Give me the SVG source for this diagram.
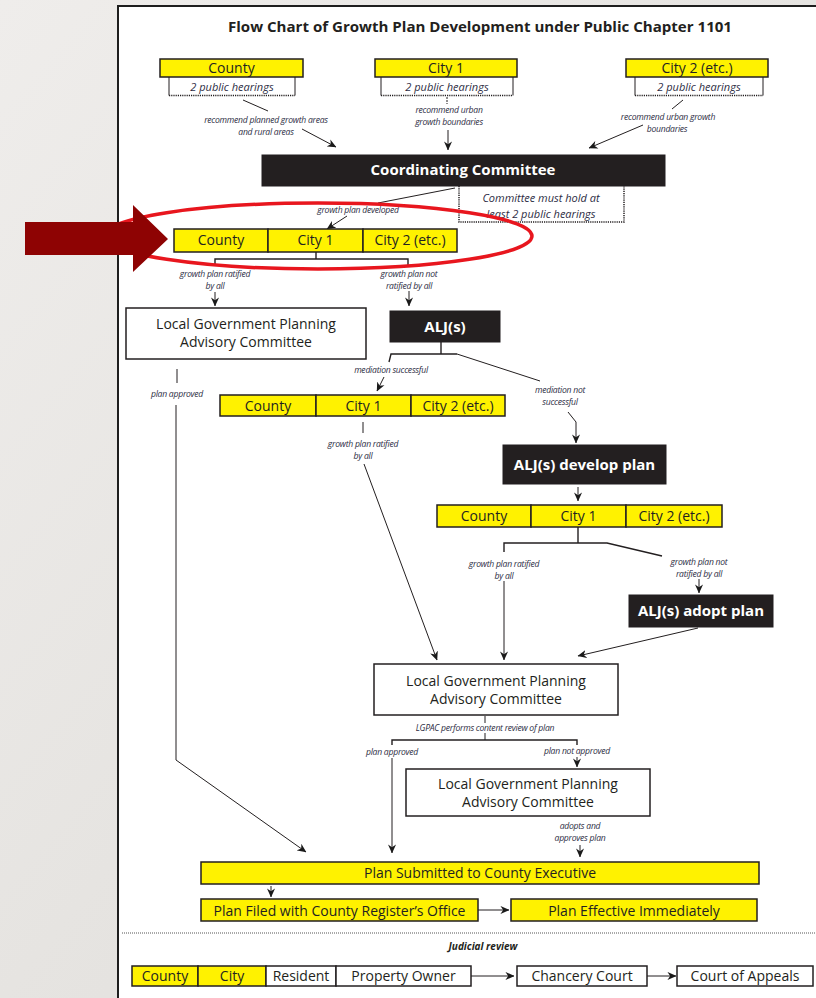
<svg xmlns="http://www.w3.org/2000/svg" width="816" height="998" viewBox="0 0 816 998">
<defs>
<linearGradient id="bg" x1="0" y1="0" x2="1" y2="1">
<stop offset="0" stop-color="#efedeb"/><stop offset="0.5" stop-color="#e6e4e1"/><stop offset="1" stop-color="#dedcd9"/>
</linearGradient>
<marker id="ah" viewBox="0 0 10 10" refX="9.5" refY="5" markerWidth="9" markerHeight="9" orient="auto" markerUnits="userSpaceOnUse">
<path d="M0,0.5 L10,5 L0,9.5 L3,5 z" fill="#1a1a1a"/>
</marker>
<style>
.t{font-family:"Open Sans","Noto Sans","Liberation Sans",sans-serif;fill:#231f20;text-anchor:middle}
.bx{font-size:14px}
.hd{font-size:15px;font-weight:bold;fill:#ffffff}
.lb{font-size:8.6px;font-style:italic;letter-spacing:-0.25px;fill:#2d2d44}
.hr{font-size:11px;font-style:italic;fill:#2d2d44}
.y{fill:#fff200;stroke:#231f20;stroke-width:1.5}
.w{fill:#ffffff;stroke:#231f20;stroke-width:1.5}
.k{fill:#231f20;stroke:#231f20;stroke-width:1}
.ln{stroke:#231f20;stroke-width:1;fill:none}
.br{stroke:#231f20;stroke-width:1.4;fill:none}
.dot{stroke:#231f20;stroke-width:1.5;stroke-dasharray:1.2,1;fill:none}
</style>
</defs>
<rect x="0" y="0" width="816" height="998" fill="url(#bg)"/>
<rect x="118" y="6" width="720" height="1010" fill="#ffffff" stroke="#1e1e1e" stroke-width="2"/>
<text class="t" x="480" y="32" font-size="15" font-weight="bold" textLength="504" lengthAdjust="spacingAndGlyphs">Flow Chart of Growth Plan Development under Public Chapter 1101</text>

<g id="connectors">
<line class="ln" x1="243" y1="100" x2="268" y2="111"/>
<line class="ln" x1="302" y1="129" x2="336" y2="147" marker-end="url(#ah)"/>
<line class="ln" x1="447" y1="97" x2="447" y2="104" stroke-dasharray="2,1"/>
<line class="ln" x1="448" y1="130" x2="448" y2="150" marker-end="url(#ah)"/>
<line class="ln" x1="683" y1="100" x2="672" y2="109"/>
<line class="ln" x1="643" y1="125" x2="589" y2="148" marker-end="url(#ah)"/>
<line class="ln" x1="455" y1="188" x2="378" y2="203"/>
<line class="ln" x1="347" y1="216" x2="327" y2="229" marker-end="url(#ah)"/>
<polyline class="br" points="316,252 316,259"/>
<polyline class="br" points="215,266 215,259 408,259 408,266"/>
<line class="ln" x1="215" y1="292" x2="215" y2="306" marker-end="url(#ah)"/>
<line class="ln" x1="409" y1="291" x2="409" y2="306" marker-end="url(#ah)"/>
<polyline class="br" points="441,342 441,354"/>
<polyline class="br" points="389,362 391,354 457,354"/>
<line class="ln" x1="457" y1="354" x2="540" y2="381"/>
<line class="ln" x1="384" y1="377" x2="377" y2="391" marker-end="url(#ah)"/>
<polyline class="ln" points="568,412 576,422 576,443" marker-end="url(#ah)"/>
<line class="ln" x1="177" y1="369" x2="177" y2="383"/>
<polyline class="ln" points="176,405 176,760 306,852" marker-end="url(#ah)"/>
<line class="ln" x1="363" y1="422" x2="363" y2="433"/>
<line class="ln" x1="364" y1="464" x2="437" y2="660" marker-end="url(#ah)"/>
<line class="ln" x1="578" y1="487" x2="578" y2="501" marker-end="url(#ah)"/>
<polyline class="br" points="578,527 578,543"/>
<polyline class="br" points="504,552 504,543 607,543 662,556"/>
<line class="ln" x1="504" y1="581" x2="504" y2="660" marker-end="url(#ah)"/>
<line class="ln" x1="699" y1="579" x2="699" y2="593" marker-end="url(#ah)"/>
<line class="ln" x1="698" y1="628" x2="578" y2="656" marker-end="url(#ah)"/>
<line class="ln" x1="485" y1="716" x2="485" y2="723"/>
<polyline class="br" points="392,745 392,740 577,740 577,745"/>
<line class="ln" x1="485" y1="733" x2="485" y2="740"/>
<line class="ln" x1="392" y1="758" x2="392" y2="853" marker-end="url(#ah)"/>
<line class="ln" x1="577" y1="757" x2="577" y2="767" marker-end="url(#ah)"/>
<line class="ln" x1="580" y1="845" x2="580" y2="857" marker-end="url(#ah)"/>
<line class="ln" x1="271" y1="886" x2="271" y2="897" marker-end="url(#ah)"/>
<line class="ln" x1="478" y1="910" x2="509" y2="910" marker-end="url(#ah)"/>
<line class="ln" x1="471" y1="976" x2="514" y2="976" marker-end="url(#ah)"/>
<line class="ln" x1="647" y1="976" x2="676" y2="976" stroke="#666" marker-end="url(#ah)"/>
<line x1="122" y1="933" x2="816" y2="933" stroke="#555" stroke-width="1" stroke-dasharray="1,1"/>
<text class="t lb" x="266" y="122.5">recommend planned growth areas</text>
<text class="t lb" x="266" y="135">and rural areas</text>
<text class="t lb" x="449" y="112.5">recommend urban</text>
<text class="t lb" x="449" y="125">growth boundaries</text>
<text class="t lb" x="668" y="119.5">recommend urban growth</text>
<text class="t lb" x="667" y="132">boundaries</text>
<text class="t lb" x="358" y="213">growth plan developed</text>
<text class="t lb" x="215" y="276.5">growth plan ratified</text>
<text class="t lb" x="215" y="289">by all</text>
<text class="t lb" x="409" y="276.5">growth plan not</text>
<text class="t lb" x="409" y="289">ratified by all</text>
<text class="t lb" x="391" y="373">mediation successful</text>
<text class="t lb" x="560" y="392.5">mediation not</text>
<text class="t lb" x="560" y="405">successful</text>
<text class="t lb" x="177" y="397">plan approved</text>
<text class="t lb" x="363" y="446.5">growth plan ratified</text>
<text class="t lb" x="363" y="459">by all</text>
<text class="t lb" x="504" y="566.5">growth plan ratified</text>
<text class="t lb" x="504" y="579">by all</text>
<text class="t lb" x="699" y="564.5">growth plan not</text>
<text class="t lb" x="699" y="577">ratified by all</text>
<text class="t lb" x="485" y="731">LGPAC performs content review of plan</text>
<text class="t lb" x="392" y="755">plan approved</text>
<text class="t lb" x="577" y="754">plan not approved</text>
<text class="t lb" x="580" y="828.5">adopts and</text>
<text class="t lb" x="580" y="841">approves plan</text>
</g>

<g id="county-top">
<rect class="y" x="160" y="59" width="143" height="18"/>
<text class="t bx" x="231.5" y="73">County</text>
<path class="ln" d="M169,77 V95.5 M295,77 V95.5" stroke-width="1.5"/>
<line class="dot" x1="169" y1="95.5" x2="295" y2="95.5"/>
<text class="t hr" x="232" y="91">2 public hearings</text>
</g>
<g id="city1-top">
<rect class="y" x="375" y="59" width="142" height="18"/>
<text class="t bx" x="446" y="73">City 1</text>
<path class="ln" d="M381,77 V95.5 M513,77 V95.5" stroke-width="1.5"/>
<line class="dot" x1="381" y1="95.5" x2="513" y2="95.5"/>
<text class="t hr" x="447" y="91">2 public hearings</text>
</g>
<g id="city2-top">
<rect class="y" x="626" y="59" width="142" height="18"/>
<text class="t bx" x="697" y="73">City 2 (etc.)</text>
<path class="ln" d="M635,77 V95.5 M763,77 V95.5" stroke-width="1.5"/>
<line class="dot" x1="635" y1="95.5" x2="763" y2="95.5"/>
<text class="t hr" x="699" y="91">2 public hearings</text>
</g>

<g id="coordinating-committee">
<rect class="k" x="262" y="155" width="403" height="31"/>
<text class="t hd" x="463" y="175">Coordinating Committee</text>
<path class="dot" d="M459,186 V222 H624 V186"/>
<text class="t hr" x="541" y="202">Committee must hold at</text>
<text class="t hr" x="541" y="218">least 2 public hearings</text>
</g>

<g id="row-developed">
<rect class="y" x="174" y="229" width="94" height="23"/>
<rect class="y" x="268" y="229" width="95" height="23"/>
<rect class="y" x="363" y="229" width="94" height="23"/>
<text class="t bx" x="221" y="245">County</text>
<text class="t bx" x="315.5" y="245">City 1</text>
<text class="t bx" x="410" y="245">City 2 (etc.)</text>
</g>

<g id="lgpac-1">
<rect class="w" x="126" y="308" width="240" height="51"/>
<text class="t bx" x="246" y="329">Local Government Planning</text>
<text class="t bx" x="246" y="347">Advisory Committee</text>
</g>

<g id="alj">
<rect class="k" x="390" y="311" width="110" height="31"/>
<text class="t hd" x="445" y="332">ALJ(s)</text>
</g>

<g id="row-mediation">
<rect class="y" x="220" y="395" width="96" height="21"/>
<rect class="y" x="316" y="395" width="95" height="21"/>
<rect class="y" x="411" y="395" width="94" height="21"/>
<text class="t bx" x="268" y="411">County</text>
<text class="t bx" x="363.5" y="411">City 1</text>
<text class="t bx" x="458" y="411">City 2 (etc.)</text>
</g>

<g id="alj-develop">
<rect class="k" x="503" y="445" width="163" height="39"/>
<text class="t hd" x="584.5" y="470">ALJ(s) develop plan</text>
</g>

<g id="row-alj-plan">
<rect class="y" x="437" y="505" width="94" height="22"/>
<rect class="y" x="531" y="505" width="95" height="22"/>
<rect class="y" x="626" y="505" width="96" height="22"/>
<text class="t bx" x="484" y="521">County</text>
<text class="t bx" x="578.5" y="521">City 1</text>
<text class="t bx" x="674" y="521">City 2 (etc.)</text>
</g>

<g id="alj-adopt">
<rect class="k" x="629" y="595" width="144" height="32"/>
<text class="t hd" x="701" y="616">ALJ(s) adopt plan</text>
</g>

<g id="lgpac-2">
<rect class="w" x="374" y="664" width="244" height="51"/>
<text class="t bx" x="496" y="686">Local Government Planning</text>
<text class="t bx" x="496" y="704">Advisory Committee</text>
</g>

<g id="lgpac-3">
<rect class="w" x="406" y="769" width="244" height="47"/>
<text class="t bx" x="528" y="789">Local Government Planning</text>
<text class="t bx" x="528" y="807">Advisory Committee</text>
</g>

<g id="plan-submitted">
<rect class="y" x="201" y="862" width="558" height="22"/>
<text class="t bx" x="480" y="878">Plan Submitted to County Executive</text>
</g>
<g id="plan-filed">
<rect class="y" x="201" y="899" width="277" height="22"/>
<text class="t bx" x="339.5" y="915.5">Plan Filed with County Register’s Office</text>
</g>
<g id="plan-effective">
<rect class="y" x="511" y="899" width="246" height="22"/>
<text class="t bx" x="634" y="915.5">Plan Effective Immediately</text>
</g>

<g id="judicial-review">
<text class="t" x="483" y="950" font-size="10" font-weight="bold" font-style="italic">Judicial review</text>
</g>
<g id="jr-county"><rect class="y" x="132" y="966" width="66" height="20"/><text class="t bx" x="165" y="981" font-size="13.5">County</text></g>
<g id="jr-city"><rect class="y" x="198" y="966" width="68" height="20"/><text class="t bx" x="232" y="981" font-size="13.5">City</text></g>
<g id="jr-resident"><rect class="w" x="266" y="966" width="70" height="20"/><text class="t bx" x="301" y="981" font-size="13.5">Resident</text></g>
<g id="jr-owner"><rect class="w" x="336" y="966" width="135" height="20"/><text class="t bx" x="403.5" y="981" font-size="13.5">Property Owner</text></g>
<g id="jr-chancery"><rect class="w" x="517" y="966" width="130" height="20"/><text class="t bx" x="582" y="981" font-size="13.5">Chancery Court</text></g>
<g id="jr-appeals"><rect class="w" x="677" y="966" width="136" height="20"/><text class="t bx" x="745" y="981" font-size="13.5">Court of Appeals</text></g>

<g id="highlight">
<ellipse cx="318" cy="236" rx="214" ry="33" fill="none" stroke="#e8161e" stroke-width="3.5"/>
<polygon points="25,222 133,222 133,205 168,239 133,272 133,255 25,255" fill="#8e0303"/>
</g>
</svg>
